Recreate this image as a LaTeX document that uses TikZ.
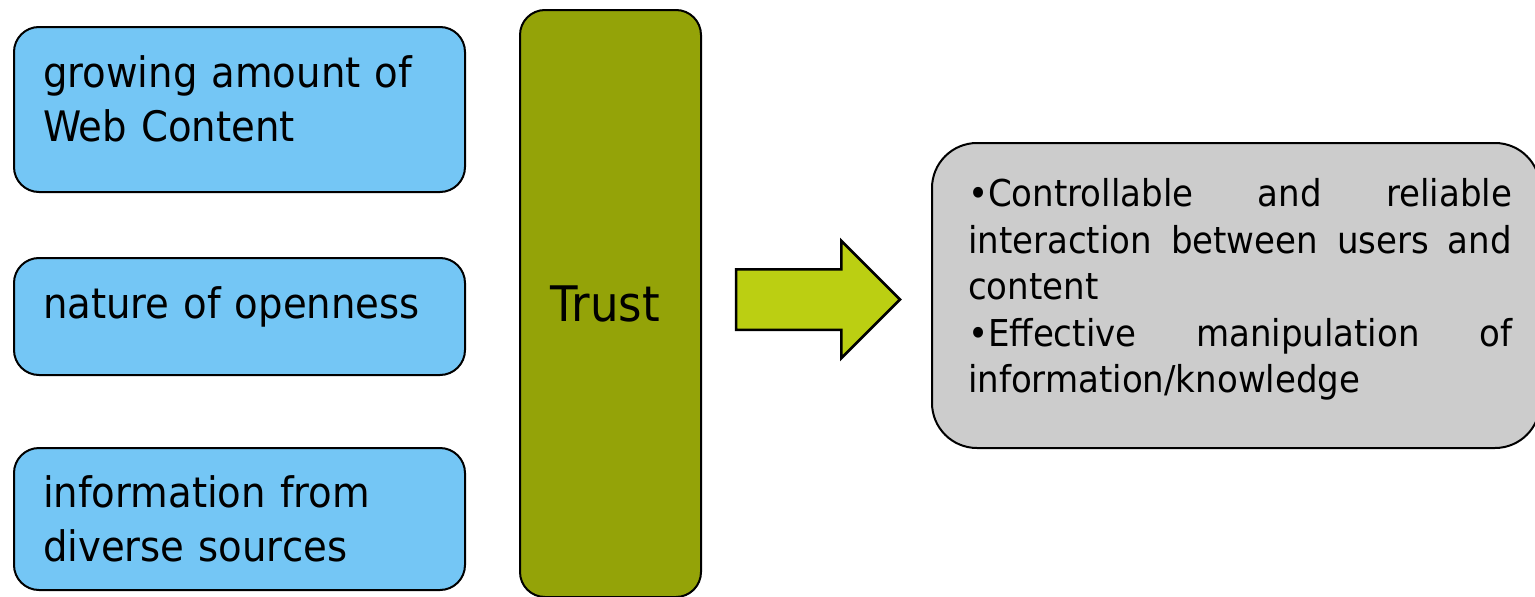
\documentclass[tikz,border=0pt]{standalone}
\usepackage{fontspec}
\setmainfont{DejaVu Sans}[FakeStretch=0.92]
\usetikzlibrary{shapes.arrows}
\definecolor{boxblue}{RGB}{116,198,245}
\definecolor{trustolive}{RGB}{148,163,8}
\definecolor{arrowlime}{RGB}{187,207,18}
\definecolor{resultgray}{RGB}{204,204,204}
\newcommand{\jline}[1]{\leavevmode\hbox to 544pt{#1}}
\newcommand{\lowpad}[1]{\rule[-#1]{0pt}{#1}}
\begin{document}
\begin{tikzpicture}[x=1pt,y=-1pt,
  bluebox/.style={draw=black, line width=2pt, fill=boxblue, rounded corners=25pt,
    text width=393pt, inner xsep=29pt, inner ysep=0pt, align=left,
    font=\fontsize{42}{54}\selectfont},
  trustbox/.style={draw=black, line width=2pt, fill=trustolive, rounded corners=25pt,
    inner sep=0pt, font=\fontsize{49}{56}\selectfont},
  blockarrow/.style={single arrow, draw=black, line width=2.5pt, fill=arrowlime,
    minimum height=164pt, minimum width=115pt, single arrow head extend=28.5pt,
    inner xsep=0pt, inner ysep=29pt, outer sep=0pt},
  resultbox/.style={draw=black, line width=2pt, fill=resultgray, rounded corners=45pt,
    text width=536pt, inner xsep=36pt, inner ysep=0pt, align=left,
    font=\fontsize{37}{46.5}\selectfont}]
\useasboundingbox (0,0) rectangle (1535,597);
\node[bluebox, minimum height=165pt] (web) at (239.5,109.5) {growing amount of\\Web Content\lowpad{21pt}};
\node[bluebox, text height=60pt, text depth=57pt] (open) at (239.5,316.5) {nature of openness};
\node[bluebox, minimum height=142pt] (div) at (239.5,519) {information from\\diverse sources};
\node[trustbox, minimum width=181pt, minimum height=587pt] (trust) at (610.5,303.5) {Trust\hspace*{10pt}};
\node[blockarrow, anchor=tail] (arr) at (736,299.5) {};
\node[resultbox, minimum height=305pt] (res) at (1236,295.5)
  {\jline{•Controllable\hfill and\hfill reliable}\\
   \jline{interaction\hfill between\hfill users\hfill and}\\
   content\\
   \jline{•Effective\hfill manipulation\hfill of}\\
   information/knowledge\lowpad{20pt}};
\end{tikzpicture}
\end{document}
